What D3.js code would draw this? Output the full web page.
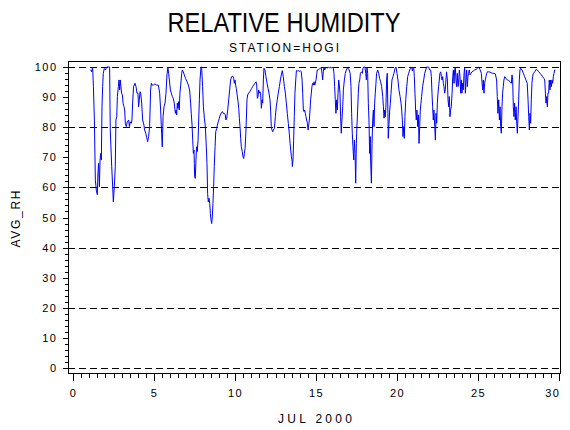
<!DOCTYPE html>
<html>
<head>
<meta charset="utf-8">
<script src="https://cdn.jsdelivr.net/npm/d3@7"></script>
<style>
  html, body { margin: 0; padding: 0; background: #fff; }
  svg { display: block; }
  text { font-family: "Liberation Sans", Arial, sans-serif; fill: #000; }
</style>
</head>
<body>
<div id="chart"></div>
<script>
// Hourly-ish relative humidity, station HOGI, July 2000 — [day, RH %]
const week1 = [
  [1.08,99],[1.11,99],[1.15,98.4],[1.21,100],[1.26,93.5],[1.32,82.4],[1.38,62.4],[1.44,59.1],[1.50,57.6],[1.54,64.6],
  [1.58,68],[1.63,60.2],[1.67,69.1],[1.71,71.3],[1.75,69.1],[1.79,86.8],[1.83,93.5],[1.87,97.9],[1.93,99.5],[2.00,99],
  [2.08,100],[2.18,100],[2.26,100],[2.30,79.1],[2.39,66.9],[2.45,60.2],[2.49,55.2],[2.55,60.2],[2.61,66.9],[2.65,82.4],
  [2.70,83.5],[2.74,90.2],[2.80,93.5],[2.84,95.7],[2.88,92.4],[2.92,95.7],[2.96,93.5],[3.00,91.3],[3.05,90.7],[3.09,88],
  [3.15,86.8],[3.19,85.7],[3.23,81.3],[3.29,80.2],[3.35,81.8],[3.44,82.4],[3.48,80.2],[3.54,81.8],[3.60,81.3],[3.64,82.4],
  [3.68,88],[3.74,93.5],[3.83,94.6],[3.89,93.5],[3.95,91.3],[4.01,91.3],[4.05,86.8],[4.09,89.1],[4.14,91.8],[4.18,91.3],
  [4.24,88],[4.30,82.4],[4.38,80.7],[4.42,79.1],[4.49,78],[4.55,76.5],[4.61,75.2],[4.67,77],[4.73,80.2],[4.79,92.4],
  [4.84,94.6],[4.88,94],[4.96,94],[5.06,94.4],[5.16,94],[5.27,94],[5.35,91.3],[5.41,85.7],[5.47,78],[5.51,73.5],
  [5.56,83.5],[5.62,86.8],[5.68,88],[5.74,91.3],[5.80,97.4],[5.86,100],[5.90,97.9],[5.95,95.7],[6.01,92.4],[6.07,91.3],
  [6.13,90.2],[6.19,89.6],[6.25,88],[6.32,84.6],[6.36,85.7],[6.40,84.1],[6.44,88],[6.48,86.3],[6.52,88.5],[6.56,85.7],
  [6.60,91.3],[6.65,94],[6.71,97.9],[6.75,99],[6.81,98.4],[6.87,97.4],[6.95,96.2],[7.04,95.1],[7.12,94],[7.20,92.4],
  [7.26,88],[7.30,84.6],[7.35,80.7],[7.39,75.7],[7.43,71.3],[7.47,72.4],[7.49,68],[7.51,63.6],[7.55,63],[7.59,69.1],
  [7.63,73.5],[7.67,71.9],[7.72,75.7],[7.76,82.4],[7.80,89.1],[7.84,95.7]
];
const week2 = [
  [7.90,100],[7.94,100],[8.00,93.5],[8.05,86.8],[8.11,83],[8.17,80.2],[8.23,73.5],[8.27,68],[8.31,58],[8.35,55.2],
  [8.40,56.4],[8.44,54.7],[8.48,51.3],[8.52,49.1],[8.56,48],[8.60,50.2],[8.64,54.7],[8.68,60.2],[8.72,66.9],[8.77,73.5],
  [8.81,78.5],[8.87,79.6],[8.91,80.7],[8.97,81.8],[9.03,83],[9.09,84.1],[9.16,84.8],[9.22,85.2],[9.28,84.6],[9.34,84.6],
  [9.40,84.1],[9.44,82.4],[9.49,83],[9.55,85.7],[9.61,89.1],[9.67,92.4],[9.73,95.7],[9.79,96.8],[9.86,97],[9.92,96.2],
  [9.96,94.6],[10.00,95.7],[10.04,94],[10.08,92.9],[10.12,91.3],[10.19,88.5],[10.23,86.3],[10.27,83],[10.31,80.2],[10.35,76.3],
  [10.39,73.5],[10.45,71.9],[10.49,70.2],[10.54,69.6],[10.58,71.3],[10.62,72.9],[10.66,76.8],[10.70,82.4],[10.74,89.1],[10.78,90.7],
  [10.84,91.3],[10.91,91.8],[10.97,92.4],[11.03,92.9],[11.09,93.5],[11.15,94],[11.23,94.6],[11.30,95.1],[11.34,94],[11.38,89.6],
  [11.42,90.2],[11.46,92.4],[11.50,91.3],[11.54,91.8],[11.58,91.3],[11.63,86.3],[11.67,89.1],[11.71,88],[11.75,95.7],[11.79,99.6],
  [11.85,99],[11.91,96.8],[11.98,94.6],[12.04,92.9],[12.10,91.3],[12.16,89.1],[12.20,85.7],[12.24,80.2],[12.28,79.1],[12.33,78.5],
  [12.37,79.1],[12.43,79.6],[12.49,83.5],[12.55,86.8],[12.61,89.1],[12.67,91.3],[12.74,93.5],[12.80,95.7],[12.86,97.4],[12.92,98.8],
  [12.98,96.8],[13.05,93.5],[13.11,91.3],[13.17,88],[13.23,84.6],[13.29,81.3],[13.35,78],[13.40,74.6],[13.44,72.4],[13.48,70.2],
  [13.52,69.1],[13.54,66.9],[13.58,69.1],[13.62,75.7],[13.66,83.5],[13.70,91.3],[13.75,95.7],[13.79,98.8],[13.85,98.7],[13.91,98.8],
  [13.97,98.5],[14.03,98.8],[14.09,98.4],[14.14,95.7],[14.18,91.3],[14.22,85.7],[14.26,85.2],[14.30,85.7],[14.34,84.6],[14.38,83.5],
  [14.42,82.4],[14.47,81.3],[14.51,79.1],[14.55,80.7],[14.59,82.4],[14.63,85.7],[14.67,89.1],[14.71,91.3],[14.75,93.5]
];
const week3 = [
  [14.79,94.6],[14.84,94],[14.88,95.1],[14.92,94],[14.96,94.6],[15.00,95.7],[15.04,97.4],[15.08,99],[15.14,99.2],[15.21,99.4],
  [15.27,99.6],[15.33,99.6],[15.37,97.9],[15.41,95.7],[15.45,98.4],[15.49,100],[15.54,99],[15.58,99.6],[15.64,100],[15.70,99.6],
  [15.76,100],[15.82,99.7],[15.88,100],[15.95,99.6],[16.01,100],[16.07,99.6],[16.11,97.9],[16.15,93.5],[16.19,89.1],[16.23,84.6],
  [16.28,89.1],[16.32,85.7],[16.36,91.3],[16.40,95.7],[16.44,94],[16.48,91.3],[16.52,83.5],[16.56,78],[16.60,82.4],[16.65,86.8],
  [16.69,92.4],[16.75,95.7],[16.81,97.9],[16.87,99],[16.93,99.6],[16.99,99.6],[17.05,99],[17.11,97.9],[17.16,93.5],[17.20,84.6],
  [17.24,78],[17.28,73.5],[17.33,69.1],[17.37,75.7],[17.41,71.3],[17.45,61.4],[17.49,74.6],[17.51,78],[17.57,85.7],[17.61,91.3],
  [17.65,94.6],[17.70,95.7],[17.74,97.9],[17.80,98.4],[17.86,97.9],[17.90,99.6],[17.94,100],[18.02,100],[18.07,97.9],[18.11,95.7],
  [18.15,100],[18.19,97.9],[18.23,88],[18.27,82.4],[18.31,71.3],[18.35,76.9],[18.37,69.1],[18.42,61.4],[18.46,74.6],[18.50,82.4],
  [18.54,85.7],[18.58,80.2],[18.62,88],[18.66,91.3],[18.70,94.6],[18.74,97.9],[18.81,99],[18.87,97.9],[18.93,96.2],[18.99,95.1],
  [19.05,93.5],[19.12,90.2],[19.16,86.8],[19.20,83],[19.24,85.7],[19.28,83.5],[19.32,87.4],[19.36,95.7],[19.40,97.9],[19.44,84.6],
  [19.46,76.3],[19.51,81.3],[19.55,85.7],[19.59,88],[19.63,91.3],[19.69,95.7],[19.75,96.8],[19.81,97.9],[19.88,99.6],[19.94,100],
  [20.00,97.9],[20.06,95.7],[20.12,92.4],[20.19,90.2],[20.25,88],[20.29,85.7],[20.33,82.4],[20.37,76.9],[20.41,80.2],[20.45,76.3],
  [20.49,83.5],[20.54,89.1],[20.60,93.5],[20.66,96.8],[20.72,97.9],[20.78,99],[20.84,99.6],[20.91,100],[20.95,98.7],[20.99,99.6],
  [21.03,100],[21.07,96.8],[21.11,91.3],[21.15,85.7],[21.19,82.4],[21.23,85.7],[21.28,80.2],[21.32,84.1],[21.36,74.6],[21.40,80.2],
  [21.44,85.7],[21.48,88],[21.52,90.2]
];
const week4 = [
  [21.58,93.5],[21.65,95.7],[21.71,97.9],[21.77,99],[21.83,100],[21.89,100],[21.95,100],[22.02,99],[22.08,99],[22.12,96.8],
  [22.16,91.3],[22.20,86.8],[22.24,82.4],[22.28,85.7],[22.33,80.2],[22.37,75.7],[22.41,84.6],[22.45,81.3],[22.49,88],[22.53,91.3],
  [22.57,93.5],[22.61,95.7],[22.65,97.9],[22.70,98.4],[22.74,96.8],[22.78,95.7],[22.82,96.8],[22.86,94.6],[22.90,93.5],[22.94,91.3],
  [22.98,92.4],[23.02,95.7],[23.06,98.4],[23.11,95.7],[23.15,89.1],[23.19,86.8],[23.23,90.2],[23.27,83.5],[23.31,85.7],[23.35,86.8],
  [23.40,91.3],[23.44,96.8],[23.48,99],[23.52,94.6],[23.56,99],[23.60,100],[23.64,95.7],[23.68,93.5],[23.72,97.9],[23.77,93.5],
  [23.81,95.7],[23.85,99],[23.89,96.8],[23.93,91.3],[23.97,95.7],[24.01,91.3],[24.05,94.6],[24.09,92.4],[24.14,97.9],[24.18,100],
  [24.22,91.3],[24.26,95.7],[24.30,99],[24.34,93.5],[24.38,96.8],[24.42,97.9],[24.46,99],[24.51,97.4],[24.57,97.9],[24.63,98.4],
  [24.71,98.7],[24.79,99],[24.88,99.2],[24.96,99.6],[25.04,100],[25.12,99.2],[25.21,97.9],[25.25,94.6],[25.29,92.4],[25.33,95.7],
  [25.37,91.3],[25.41,94.6],[25.45,95.7],[25.49,96.8],[25.54,97.9],[25.58,98.4],[25.66,98.4],[25.74,98.3],[25.82,98.1],[25.91,97.9],
  [25.99,97.9],[26.07,97.7],[26.15,95.7],[26.19,90.2],[26.23,84.6],[26.28,89.1],[26.32,82.4],[26.36,86.8],[26.40,80.2],[26.44,78],
  [26.48,86.8],[26.52,91.3],[26.56,93.5],[26.60,95.7],[26.65,96.8],[26.73,96.2],[26.81,95.7],[26.89,95.5],[26.98,95.1],[27.06,94.6],
  [27.10,97.4],[27.14,95.7],[27.18,86.8],[27.22,83.5],[27.26,88],[27.30,82.4],[27.35,86.8],[27.39,81.3],[27.43,78],[27.47,83.5],
  [27.51,89.1],[27.55,95.7],[27.59,99],[27.63,99.6],[27.72,99],[27.80,97.9],[27.88,96.8],[27.96,95.7],[28.04,94.6],[28.09,89.1],
  [28.13,83.5],[28.17,79.1],[28.21,84.6],[28.25,81.3],[28.29,89.1],[28.33,94.6],[28.37,96.8],[28.42,97.9],[28.50,98.4],[28.58,99.2],
  [28.66,99],[28.75,98.4],[28.83,97.9],[28.91,97.4],[28.99,96.8],[29.07,96.2],[29.12,95.7],[29.16,91.3],[29.20,88],[29.24,90.2],
  [29.28,86.8],[29.32,91.3],[29.36,91.3],[29.40,95.7],[29.44,92.4],[29.49,95.7],[29.53,93.5],[29.57,95.7],[29.61,94.6],[29.65,96.8],
  [29.69,97.9],[29.73,99],[29.77,99]
];

// axis tick values
const xMajorTicks = [0, 5, 10, 15, 20, 25, 30];
const xMinorTicks = d3.range(0, 30.01, 0.5);
const yMajorTicks = [0, 10, 20, 30, 40, 50, 60, 70, 80, 90, 100];
const yMinorTicks = d3.range(0, 100.01, 2);
const refLines = [0, 20, 40, 60, 80, 100];

const W = 570, H = 430;
const frame = { left: 68, right: 561, top: 61, bottom: 374 };

const svg = d3.select('#chart').append('svg')
    .attr('width', W)
    .attr('height', H)
    .style('background', '#fff');

// Scales: 0..30 days, 0..100 % (frame has a little padding round the data range)
const x = d3.scaleLinear().domain([0, 30]).range([73, 559]);
const y = d3.scaleLinear().domain([-2, 102]).range([frame.bottom, frame.top]);

// Titles
svg.append('text')
    .attr('x', 284).attr('y', 32)
    .attr('text-anchor', 'middle')
    .attr('font-size', 28)
    .attr('textLength', 233)
    .attr('lengthAdjust', 'spacingAndGlyphs')
    .text('RELATIVE HUMIDITY');

svg.append('text')
    .attr('x', 284).attr('y', 52)
    .attr('text-anchor', 'middle')
    .attr('font-size', 12)
    .attr('textLength', 110)
    .attr('lengthAdjust', 'spacing')
    .text('STATION=HOGI');

// Dashed reference lines
svg.append('g').selectAll('line')
    .data(refLines)
    .enter().append('line')
    .attr('x1', frame.left).attr('x2', frame.right)
    .attr('y1', d => Math.round(y(d)) + 0.5)
    .attr('y2', d => Math.round(y(d)) + 0.5)
    .attr('stroke', '#000')
    .attr('stroke-width', 1)
    .attr('stroke-dasharray', '7,4');

// Data line, clipped to the frame
svg.append('clipPath').attr('id', 'plotClip')
    .append('rect')
    .attr('x', frame.left).attr('y', frame.top)
    .attr('width', frame.right - frame.left)
    .attr('height', frame.bottom - frame.top);

const readings = week1.concat(week2, week3, week4);
const line = d3.line()
    .x(d => x(d[0]))
    .y(d => y(d[1]));

svg.append('path')
    .datum(readings)
    .attr('clip-path', 'url(#plotClip)')
    .attr('fill', 'none')
    .attr('stroke', '#0000ff')
    .attr('stroke-width', 1)
    .attr('stroke-linejoin', 'miter')
    .attr('d', line);

// Frame
svg.append('rect')
    .attr('x', frame.left + 0.5).attr('y', frame.top + 0.5)
    .attr('width', frame.right - frame.left - 1)
    .attr('height', frame.bottom - frame.top - 1)
    .attr('fill', 'none')
    .attr('stroke', '#000')
    .attr('stroke-width', 1);

// X axis: minor then major ticks
const xMinor = svg.append('g')
    .attr('transform', `translate(0,${frame.bottom - 0.5})`)
    .call(d3.axisBottom(x).tickValues(xMinorTicks).tickSize(4).tickFormat(''));
xMinor.select('.domain').remove();

const xMajor = svg.append('g')
    .attr('transform', `translate(0,${frame.bottom - 0.5})`)
    .call(d3.axisBottom(x).tickValues(xMajorTicks).tickSize(7).tickPadding(9).tickFormat(d3.format('d')));
xMajor.select('.domain').remove();
xMajor.selectAll('text')
    .attr('font-size', 11)
    .attr('font-family', '"Liberation Sans", Arial, sans-serif')
    .style('letter-spacing', '1.5px');
xMajor.selectAll('.tick').filter(d => d === 30).select('text')
    .attr('text-anchor', 'end')
    .attr('x', 1);

// Y axis
const yMinor = svg.append('g')
    .attr('transform', `translate(${frame.left + 0.5},0)`)
    .call(d3.axisLeft(y).tickValues(yMinorTicks).tickSize(4).tickFormat(''));
yMinor.select('.domain').remove();

const yMajor = svg.append('g')
    .attr('transform', `translate(${frame.left + 0.5},0)`)
    .call(d3.axisLeft(y).tickValues(yMajorTicks).tickSize(6).tickPadding(5).tickFormat(d3.format('d')));
yMajor.select('.domain').remove();
yMajor.selectAll('text')
    .attr('font-size', 11)
    .attr('font-family', '"Liberation Sans", Arial, sans-serif')
    .style('letter-spacing', '1.5px');

svg.selectAll('.tick line').attr('stroke', '#000').attr('shape-rendering', 'crispEdges');

// Axis labels
svg.append('text')
    .attr('transform', 'translate(20,219) rotate(-90)')
    .attr('text-anchor', 'middle')
    .attr('font-size', 12)
    .attr('textLength', 57)
    .attr('lengthAdjust', 'spacing')
    .text('AVG_RH');

svg.append('text')
    .attr('x', 315).attr('y', 423)
    .attr('text-anchor', 'middle')
    .attr('font-size', 12)
    .attr('textLength', 74)
    .attr('lengthAdjust', 'spacing')
    .text('JUL 2000');
</script>
</body>
</html>
